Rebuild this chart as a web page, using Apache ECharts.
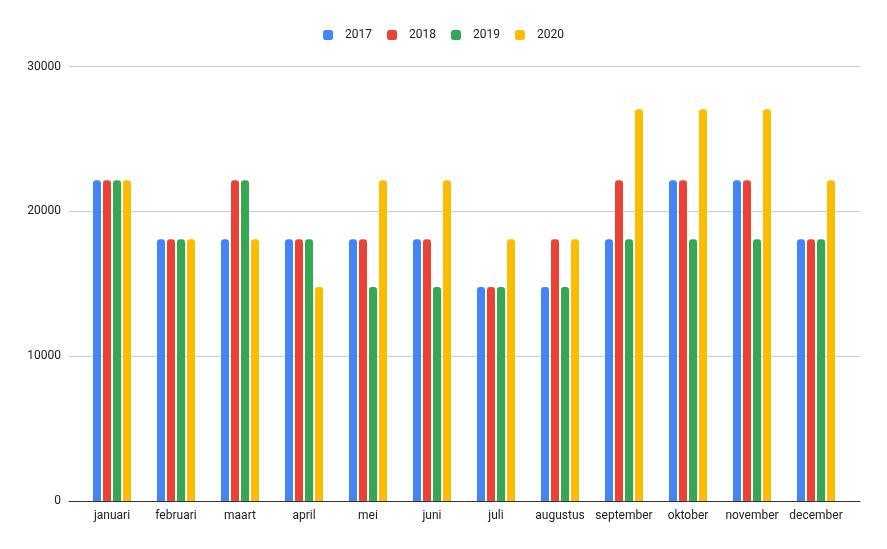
<!DOCTYPE html>
<html><head><meta charset="utf-8">
<script src="https://cdn.jsdelivr.net/npm/echarts@6/dist/echarts.min.js"></script>
<style>html,body{margin:0;padding:0;background:#fff}#c{width:887px;height:549px}</style>
</head><body><div id="c"></div>
<script>
const categories = ['januari','februari','maart','april','mei','juni','juli','augustus','september','oktober','november','december'];
const seriesNames = ['2017','2018','2019','2020'];
const v2017 = [22140,18070,18070,18070,18070,18070,14770,14770,18070,22140,22140,18070];
const v2018 = [22140,18070,22140,18070,18070,18070,14770,18070,22140,22140,22140,18070];
const v2019 = [22140,18070,22140,18070,14770,14770,14770,14770,18070,18070,18070,18070];
const v2020 = [22140,18070,18070,14770,22140,22140,18070,18070,27050,27050,27050,22140];
const yTicks = [0,10000,20000,30000];
const colors = ['#4285F4','#EA4335','#34A853','#FBBC04'];
const values = [v2017,v2018,v2019,v2020];

const font = 'Roboto, Arial, sans-serif';
const chart = echarts.init(document.getElementById('c'), null, {renderer:'canvas'});
chart.setOption({
  animation:false,
  color: colors,
  textStyle:{fontFamily:font},
  legend:{
    top:24, left:'center', itemWidth:10, itemHeight:10, itemGap:15,
    icon:'roundRect',
    textStyle:{fontSize:12,color:'#222',fontFamily:font,padding:[0,0,0,7]},
    data: seriesNames
  },
  grid:[
    {left:69,right:27,top:66.5,bottom:48,containLabel:false},
    {left:80,right:39,top:66.5,bottom:48,containLabel:false}
  ],
  xAxis:[
    {type:'category', gridIndex:0, data:[''],
     axisLine:{lineStyle:{color:'#333',width:1}},
     axisTick:{show:false}, axisLabel:{show:false}, z:5},
    {type:'category', gridIndex:1, data:categories,
     axisLine:{show:false},
     axisTick:{show:false},
     axisLabel:{color:'#222',fontSize:12,margin:9,interval:0,fontFamily:font}}
  ],
  yAxis:[
    {type:'value', gridIndex:0, min:yTicks[0], max:yTicks[yTicks.length-1], interval:10000,
     axisLine:{show:false}, axisTick:{show:false},
     axisLabel:{color:'#222',fontSize:12,margin:8,fontFamily:font,formatter:v=>String(v)},
     splitLine:{lineStyle:{color:'#ccc',width:1}}},
    {type:'value', gridIndex:1, min:yTicks[0], max:yTicks[yTicks.length-1], interval:10000,
     show:false, splitLine:{show:false}}
  ],
  series: seriesNames.map((n,i)=>({
    name:n, type:'bar', xAxisIndex:1, yAxisIndex:1, data:values[i], barWidth:8, barGap:'25%',
    itemStyle:{color:colors[i],borderRadius:[3,3,0,0]}
  }))
});
</script></body></html>
